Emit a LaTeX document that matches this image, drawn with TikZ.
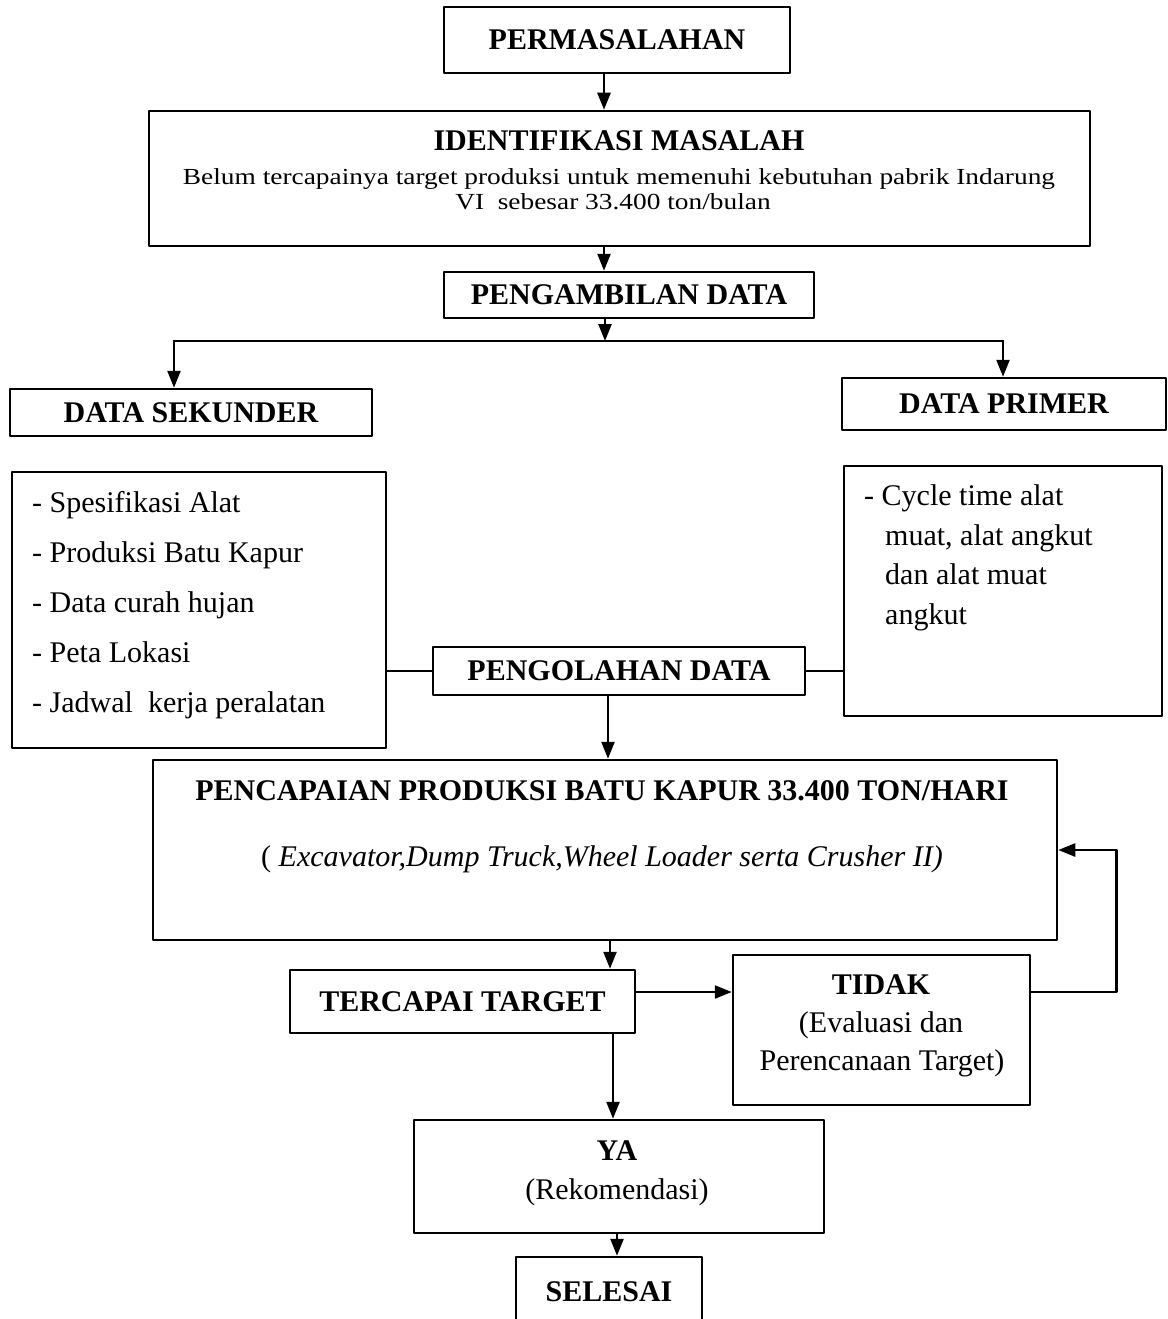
\documentclass[tikz,border=0pt]{standalone}
\usepackage{fontspec}
\setmainfont{Liberation Serif}
\usetikzlibrary{arrows.meta}
\begin{document}
\begin{tikzpicture}[x=1pt,y=-1pt,line join=round,line cap=round,>={Triangle[length=17pt,width=13pt]},
	box/.style={draw,line width=2.5pt,inner sep=0pt,font=\fontsize{30}{36}\selectfont\bfseries},
	head/.style={inner sep=0pt,font=\fontsize{30}{36}\selectfont\bfseries},
	txt/.style={inner sep=0pt,font=\fontsize{30}{38}\selectfont},
	small/.style={inner sep=0pt,font=\fontsize{23}{28}\selectfont},
	arr/.style={line width=2.5pt,->},
	con/.style={line width=2.5pt}]
	\useasboundingbox (0,0) rectangle (1167,1319);
	\clip (0,0) rectangle (1167,1319);
	\node[box,minimum width=346,minimum height=66] (perm) at (617,40) {PERMASALAHAN};
	\node[box,minimum width=941,minimum height=135] (ident) at (619.5,178.5) {};
	\node[head,anchor=base] (identhead) at (619,150) {IDENTIFIKASI MASALAH};
	\node[small,anchor=base] (identa) at (619,184) {\scalebox{1.19}[1]{Belum tercapainya target produksi untuk memenuhi kebutuhan pabrik Indarung}};
	\node[small,anchor=base] (identb) at (613,209) {\scalebox{1.19}[1]{VI\ \ sebesar 33.400 ton/bulan}};
	\node[box,minimum width=370,minimum height=46] (ambil) at (629,295) {PENGAMBILAN DATA};
	\node[box,minimum width=362,minimum height=47] (sek) at (191,412.5) {DATA SEKUNDER};
	\node[box,minimum width=324,minimum height=52] (prim) at (1004,404) {DATA PRIMER};
	\node[box,minimum width=374,minimum height=276] (seklist) at (199,610) {};
	\foreach \t [count=\i] in {Spesifikasi Alat,Produksi Batu Kapur,Data curah hujan,Peta Lokasi,Jadwal\ \ kerja peralatan}
		\node[txt,anchor=base west] (sek\i) at (32,{462+50*\i}) {- \t};
	\node[box,minimum width=318,minimum height=250] (primlist) at (1003,591) {};
	\node[txt,anchor=base west] (prim1) at (864,505) {- Cycle time alat};
	\foreach \t [count=\i from 2] in {{muat, alat angkut},dan alat muat,angkut}
		\node[txt,anchor=base west] (prim\i) at (885,{466+39.5*\i}) {\t};
	\node[box,minimum width=372,minimum height=48] (olah) at (619,671) {PENGOLAHAN DATA};
	\node[box,minimum width=904,minimum height=180] (capai) at (605,850) {};
	\node[head,anchor=base] (capaihead) at (602,800) {PENCAPAIAN PRODUKSI BATU KAPUR 33.400 TON/HARI};
	\node[txt,anchor=base] (capaitext) at (602,866) {( \textit{Excavator,Dump Truck,Wheel Loader serta Crusher II)}};
	\node[box,minimum width=345,minimum height=63] (target) at (462.5,1001.5) {TERCAPAI TARGET};
	\node[box,minimum width=297,minimum height=150] (tidak) at (881.5,1030) {};
	\node[head,anchor=base] (tidakhead) at (881,994) {TIDAK};
	\node[txt,anchor=base] (tidaka) at (881,1032) {(Evaluasi dan};
	\node[txt,anchor=base] (tidakb) at (882,1070) {Perencanaan Target)};
	\node[box,minimum width=410,minimum height=113] (ya) at (619,1176.5) {};
	\node[head,anchor=base] (yahead) at (617,1160) {YA};
	\node[txt,anchor=base] (yatext) at (617,1199) {(Rekomendasi)};
	\node[box,minimum width=186,minimum height=70] (selesai) at (609,1292) {SELESAI};
	\coordinate (c1) at (604,0);
	\coordinate (c2) at (608,0);
	\coordinate (c3) at (610,0);
	\coordinate (c4) at (613,0);
	\coordinate (c5) at (617,0);
	\coordinate (split) at (605,341);
	\coordinate (sl) at (174,341);
	\coordinate (sr) at (1003,341);
	\coordinate (r1) at (0,992);
	\draw[arr] (perm.south -| c1) -- (ident.north -| c1);
	\draw[arr] (ident.south -| c1) -- (ambil.north -| c1);
	\draw[arr] (ambil.south -| split) -- (split);
	\draw[con] (sl) -- (sr);
	\draw[arr] (sl) -- (sl |- sek.north);
	\draw[arr] (sr) -- (sr |- prim.north);
	\draw[con] (olah.west) -- (olah.west -| seklist.east);
	\draw[con] (olah.east) -- (olah.east -| primlist.west);
	\draw[arr] (olah.south -| c2) -- (capai.north -| c2);
	\draw[arr] (capai.south -| c3) -- (target.north -| c3);
	\draw[arr] (target.east |- r1) -- (tidak.west |- r1);
	\draw[arr] (tidak.east |- r1) -- ++(85,0) |- (capai.east);
	\draw[arr] (target.south -| c4) -- (ya.north -| c4);
	\draw[arr] (ya.south -| c5) -- (selesai.north -| c5);
\end{tikzpicture}
\end{document}
